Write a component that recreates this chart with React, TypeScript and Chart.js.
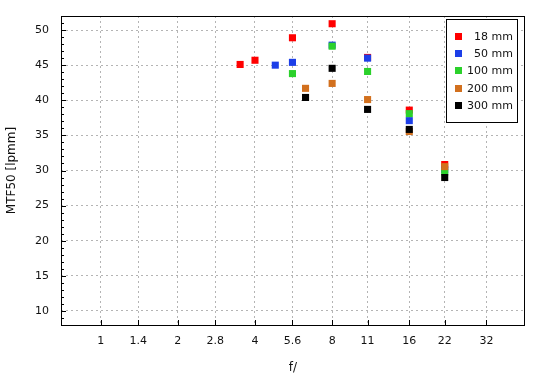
import React, { useEffect, useRef } from "react";
import { Chart, registerables } from "chart.js";

Chart.register(...registerables);

// ---- data ----
const X_TICKS = [1, 1.4, 2, 2.8, 4, 5.6, 8, 11, 16, 22, 32];
const Y_TICKS = [10, 15, 20, 25, 30, 35, 40, 45, 50];

const SERIES_LABELS = ["18 mm", "50 mm", "100 mm", "200 mm", "300 mm"];
const SERIES_COLORS = ["#ff0000", "#1c3ee8", "#2bd12b", "#d2701e", "#000000"];

const F_18 = [3.5, 4, 5.6, 8, 11, 16, 22];
const MTF_18 = [45.1, 45.7, 48.9, 50.9, 46.1, 38.6, 30.85];

const F_50 = [4.8, 5.6, 8, 11, 16, 22];
const MTF_50 = [45.0, 45.4, 47.85, 46.0, 37.1, 30.1];

const F_100 = [5.6, 8, 11, 16, 22];
const MTF_100 = [43.8, 47.7, 44.1, 38.1, 29.8];

const F_200 = [6.3, 8, 11, 16, 22];
const MTF_200 = [41.7, 42.4, 40.1, 35.55, 30.55];

const F_300 = [6.3, 8, 11, 16, 22];
const MTF_300 = [40.4, 44.55, 38.7, 35.85, 29.0];

const SERIES_F = [F_18, F_50, F_100, F_200, F_300];
const SERIES_MTF = [MTF_18, MTF_50, MTF_100, MTF_200, MTF_300];

const FONT = "'DejaVu Sans', Verdana, sans-serif";

const frameAndTicks = {
  id: "frameAndTicks",
  beforeDatasetsDraw(chart: any) {
    const { ctx, chartArea } = chart;
    const { left, right, top, bottom } = chartArea;
    const xs = chart.scales.x;
    const ys = chart.scales.y;
    ctx.save();
    ctx.strokeStyle = "#000";
    ctx.lineWidth = 1;
    ctx.beginPath();
    X_TICKS.forEach((v) => {
      const px = Math.round(xs.getPixelForValue(v)) + 0.5;
      ctx.moveTo(px, bottom);
      ctx.lineTo(px, bottom - 5);
    });
    for (let v = Math.ceil(ys.min); v <= Math.floor(ys.max); v++) {
      const py = Math.round(ys.getPixelForValue(v)) + 0.5;
      const len = v % 5 === 0 ? 5 : 3;
      ctx.moveTo(left, py);
      ctx.lineTo(left + len, py);
    }
    ctx.stroke();
    ctx.strokeRect(Math.round(left) + 0.5, Math.round(top) + 0.5, Math.round(right - left) - 1, Math.round(bottom - top));
    ctx.restore();
  },
};

const boxLegend = {
  id: "boxLegend",
  afterDraw(chart: any) {
    const { ctx } = chart;
    ctx.save();
    ctx.fillStyle = "#fff";
    ctx.fillRect(446.5, 19.5, 71, 103);
    ctx.strokeStyle = "#000";
    ctx.lineWidth = 1;
    ctx.strokeRect(446.5, 19.5, 71, 103);
    ctx.font = `11px ${FONT}`;
    ctx.textAlign = "right";
    ctx.textBaseline = "middle";
    chart.data.datasets.forEach((ds: any, i: number) => {
      const cy = 36.2 + i * 17.33;
      ctx.fillStyle = ds.backgroundColor;
      ctx.fillRect(455, Math.round(cy - 3.5), 7, 7);
      ctx.fillStyle = "#111";
      ctx.fillText(ds.label, 513, cy + 0.5);
    });
    ctx.restore();
  },
};

export default function App() {
  const ref = useRef<HTMLCanvasElement | null>(null);

  useEffect(() => {
    document.body.style.margin = "0";
    const canvas = ref.current;
    if (!canvas) return;
    const n = SERIES_LABELS.length;
    const datasets = SERIES_LABELS.map((label, i) => ({
      label,
      order: n - i,
      data: SERIES_F[i].map((f, j) => ({ x: f, y: SERIES_MTF[i][j] })),
      backgroundColor: SERIES_COLORS[i],
      borderColor: SERIES_COLORS[i],
      pointStyle: "rect",
      pointRadius: 5,
      pointHoverRadius: 5,
      pointBorderWidth: 0,
      showLine: false,
    }));
    const chart = new Chart(canvas, {
      type: "scatter",
      data: { datasets } as any,
      options: {
        animation: false,
        responsive: false,
        maintainAspectRatio: false,
        layout: { padding: { top: 16, right: 25, left: 0, bottom: 0 } },
        plugins: { legend: { display: false }, tooltip: { enabled: false } },
        scales: {
          x: {
            type: "logarithmic",
            min: 1 / Math.SQRT2,
            max: 32 * Math.SQRT2,
            afterBuildTicks: (s: any) => {
              s.ticks = X_TICKS.map((value) => ({ value }));
            },
            afterFit: (s: any) => {
              s.height = 55;
              s.paddingLeft = 0;
              s.paddingRight = 0;
            },
            ticks: {
              autoSkip: false,
              maxRotation: 0,
              padding: 10,
              color: "#111",
              font: { family: FONT, size: 11 },
              callback: (v: any) => String(v),
            },
            grid: { color: "#b4b4b4", drawTicks: false, lineWidth: 1 },
            border: { display: false, dash: [2, 3] },
            title: {
              display: true,
              text: "f/",
              color: "#111",
              font: { family: FONT, size: 12 },
              padding: { top: 0, bottom: 5 },
            },
          },
          y: {
            type: "linear",
            min: 8,
            max: 52,
            afterBuildTicks: (s: any) => {
              s.ticks = Y_TICKS.map((value) => ({ value }));
            },
            afterFit: (s: any) => {
              s.width = 61;
              s.paddingTop = 0;
              s.paddingBottom = 0;
            },
            ticks: {
              autoSkip: false,
              padding: 12,
              color: "#111",
              font: { family: FONT, size: 11 },
              callback: (v: any) => String(v),
            },
            grid: { color: "#b4b4b4", drawTicks: false, lineWidth: 1 },
            border: { display: false, dash: [2, 3] },
            title: {
              display: true,
              text: "MTF50 [lpmm]",
              color: "#111",
              font: { family: FONT, size: 12 },
              padding: { top: 5, bottom: 0 },
            },
          },
        },
      } as any,
      plugins: [frameAndTicks, boxLegend],
    });
    return () => chart.destroy();
  }, []);

  return (
    <div style={{ width: 550, height: 380 }}>
      <canvas ref={ref} width={550} height={380} style={{ display: "block" }} />
    </div>
  );
}
